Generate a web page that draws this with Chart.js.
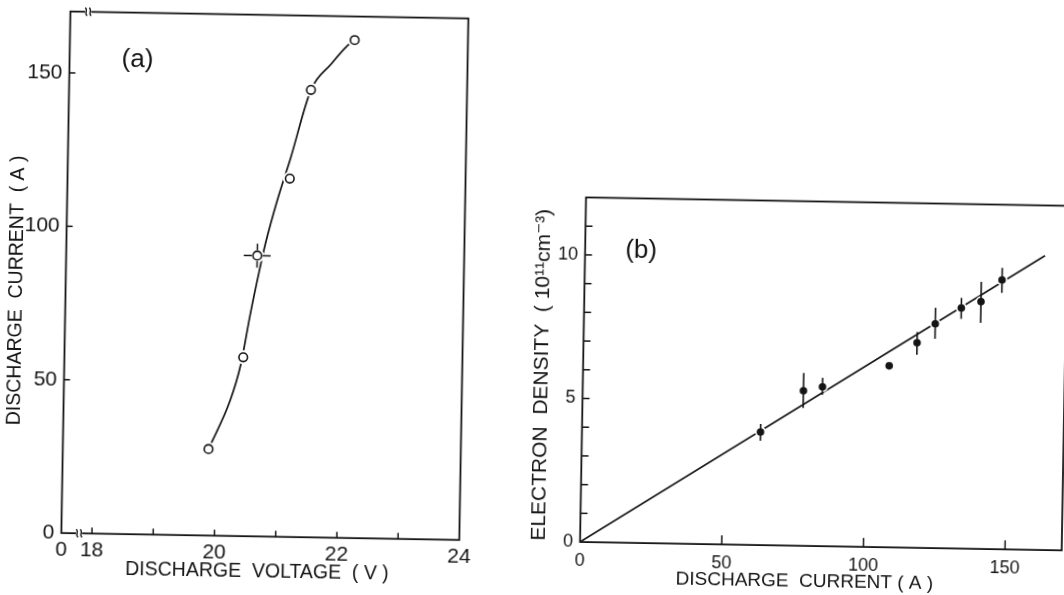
<!DOCTYPE html>
<html>
<head>
<meta charset="utf-8">
<title>Discharge characteristics</title>
<script src="https://cdn.jsdelivr.net/npm/chart.js@4.4.1/dist/chart.umd.min.js"></script>
<style>
  html, body { margin:0; padding:0; background:#fff; width:1064px; height:595px; overflow:hidden; }
  #wrap { position:absolute; left:0; top:0; width:1080px; height:595px; transform-origin:532px 297.5px; transform:rotate(1deg); }
  #wrap canvas { position:absolute; top:0; }
  #ca { left:0; }
  #cb { left:520px; }
</style>
</head>
<body>
<div id="wrap">
  <canvas id="ca" width="510" height="595"></canvas>
  <canvas id="cb" width="560" height="595"></canvas>
</div>
<script>
// ---------- Panel (a): discharge current vs discharge voltage ----------
const voltageA    = [19.88, 20.42, 20.62, 21.13, 21.45, 22.15];
const currentA    = [28.2, 58.3, 91.5, 116.8, 145.8, 162.3];
const voltageErrA = [0, 0, 0.22, 0, 0, 0];
const currentErrA = [0, 0, 3.9, 0, 0, 0];
const curveVoltageA = [19.88, 20.22, 20.38, 20.52, 20.66, 20.75, 20.93, 21.14, 21.45, 21.77, 22.03, 22.15];
const curveCurrentA = [28.2, 44.2, 55.7, 72.0, 86.7, 95.4, 109.5, 123.7, 145.8, 154.3, 160.4, 162.3];
const xTickValuesA = [17.5, 18, 20, 22, 24];
const xTickLabelsA = ['0', '18', '20', '22', '24'];
const xMinorTicksA = [18, 19, 20, 21, 22, 23];
const yTickValuesA = [0, 50, 100, 150];
const yTickLabelsA = ['0', '50', '100', '150'];
const xBreakA = 17.79;

// ---------- Panel (b): electron density vs discharge current ----------
const currentB     = [63.0, 77.9, 84.6, 108.0, 117.7, 124.0, 133.1, 140.0, 147.3];
const densityB     = [3.94, 5.40, 5.55, 6.32, 7.14, 7.81, 8.38, 8.61, 9.38];
const densityHighB = [4.22, 6.02, 5.86, null, 7.52, 8.37, 8.73, 9.30, 9.80];
const densityLowB  = [3.63, 4.80, 5.27, null, 6.72, 7.29, 8.00, 7.87, 8.93];
const fitCurrentB  = [0, 162.3];
const fitDensityB  = [0, 10.25];
const xTickValuesB = [0, 50, 100, 150];
const xTickLabelsB = ['0', '50', '100', '150'];
const xMinorTicksB = [50, 100, 150];
const yTickValuesB = [0, 5, 10];
const yTickLabelsB = ['0', '5', '10'];
const yMinorTicksB = [1, 2, 3, 4, 5, 6, 7, 8, 9, 10, 11];

// ---------- shared styling ----------
const FONT = "'Liberation Sans', Arial, 'DejaVu Sans', sans-serif";
const INK = '#151515';
Chart.defaults.font.family = FONT;
Chart.defaults.color = INK;

function seg(ctx, x1, y1, x2, y2) { ctx.beginPath(); ctx.moveTo(x1, y1); ctx.lineTo(x2, y2); ctx.stroke(); }

function drawFrame(chart) {
  const {ctx, chartArea: a} = chart;
  ctx.save();
  ctx.strokeStyle = INK; ctx.lineWidth = 1.8;
  ctx.strokeRect(a.left, a.top, a.right - a.left, a.bottom - a.top);
  ctx.restore();
}
function inwardTicks(chart, scale, values, len) {
  const {ctx, chartArea: a} = chart;
  ctx.save(); ctx.strokeStyle = INK; ctx.lineWidth = 1.5;
  values.forEach(v => {
    const p = scale.getPixelForValue(v);
    if (scale.isHorizontal()) seg(ctx, p, a.bottom, p, a.bottom - len);
    else seg(ctx, a.left, p, a.left + len, p);
  });
  ctx.restore();
}
function breakMark(ctx, x, y) {
  ctx.save();
  ctx.fillStyle = '#fff';
  ctx.fillRect(x - 3, y - 2, 6, 4);
  ctx.strokeStyle = INK; ctx.lineWidth = 1.3;
  [-2, 2].forEach(dx => {
    ctx.beginPath();
    ctx.moveTo(x + dx - 1, y - 4);
    ctx.bezierCurveTo(x + dx + 2.5, y - 1.5, x + dx - 2.5, y + 1.5, x + dx + 1, y + 4);
    ctx.stroke();
  });
  ctx.restore();
}
function panelLabel(chart, text, dx, dy) {
  const {ctx, chartArea: a} = chart;
  ctx.save();
  ctx.fillStyle = INK; ctx.font = '26px ' + FONT;
  ctx.textAlign = 'center'; ctx.textBaseline = 'middle';
  ctx.fillText(text, a.left + dx, a.top + dy);
  ctx.restore();
}
function tickSetter(values) { return s => { s.ticks = values.map(v => ({value: v})); }; }

// ---------- chart (a) ----------
const decorA = {
  id: 'decorA',
  afterDatasetsDraw(chart) {
    const {ctx, scales: {x, y}} = chart;
    ctx.save(); ctx.strokeStyle = INK; ctx.lineWidth = 1.5;
    voltageA.forEach((v, i) => {
      const px = x.getPixelForValue(v), py = y.getPixelForValue(currentA[i]);
      const gap = 5.5;
      if (voltageErrA[i]) {
        const l = x.getPixelForValue(v - voltageErrA[i]), r = x.getPixelForValue(v + voltageErrA[i]);
        seg(ctx, l, py, px - gap, py); seg(ctx, px + gap, py, r, py);
      }
      if (currentErrA[i]) {
        const t = y.getPixelForValue(currentA[i] + currentErrA[i]), b = y.getPixelForValue(currentA[i] - currentErrA[i]);
        seg(ctx, px, t, px, py - gap); seg(ctx, px, py + gap, px, b);
      }
    });
    ctx.restore();
  },
  afterDraw(chart) {
    const {ctx, chartArea: a, scales: {x, y}} = chart;
    drawFrame(chart);
    inwardTicks(chart, x, xMinorTicksA, 6);
    inwardTicks(chart, y, yTickValuesA.slice(1), 6);
    const bx = x.getPixelForValue(xBreakA);
    breakMark(ctx, bx, a.bottom);
    breakMark(ctx, bx, a.top);
    panelLabel(chart, '(a)', 68, 47);
  }
};

new Chart(document.getElementById('ca'), {
  type: 'scatter',
  data: {
    datasets: [
      { data: curveVoltageA.map((v, i) => ({x: v, y: curveCurrentA[i]})), showLine: true,
        borderColor: INK, borderWidth: 1.7, pointRadius: 0, cubicInterpolationMode: 'monotone', order: 3 },
      { data: voltageA.map((v, i) => ({x: v, y: currentA[i]})), pointRadius: 7,
        pointBackgroundColor: '#fff', pointBorderColor: '#fff', pointBorderWidth: 0, order: 2 },
      { data: voltageA.map((v, i) => ({x: v, y: currentA[i]})), pointRadius: 4.3,
        pointBackgroundColor: '#fff', pointBorderColor: INK, pointBorderWidth: 1.6, order: 1 }
    ]
  },
  options: {
    responsive: false, animation: false, events: [],
    layout: { padding: { left: 0, top: 18, right: 46.5, bottom: 0 }, autoPadding: false },
    plugins: { legend: { display: false }, tooltip: { enabled: false } },
    scales: {
      x: {
        type: 'linear', min: 17.5, max: 24,
        afterBuildTicks: tickSetter(xTickValuesA),
        afterFit: s => { s.height = 53.8; },
        grid: { display: false, drawTicks: false }, border: { display: false },
        ticks: { autoSkip: false, maxRotation: 0, padding: 4, color: INK, font: { size: 21 },
                 callback: (v, i) => xTickLabelsA[i] },
        title: { display: true, text: 'DISCHARGE  VOLTAGE  ( V ) ', color: INK, font: { size: 19.5 },
                 padding: { top: 0, bottom: 7 } }
      },
      y: {
        type: 'linear', min: 0, max: 170,
        afterBuildTicks: tickSetter(yTickValuesA),
        afterFit: s => { s.width = 65.5; },
        grid: { display: false, drawTicks: false }, border: { display: false },
        ticks: { autoSkip: false, padding: 7, color: INK, font: { size: 21 },
                 callback: (v, i) => yTickLabelsA[i] },
        title: { display: true, text: 'DISCHARGE  CURRENT  ( A )       ', color: INK, font: { size: 19.5 },
                 padding: { top: 5, bottom: 0 } }
      }
    }
  },
  plugins: [decorA]
});

// ---------- chart (b) ----------
const decorB = {
  id: 'decorB',
  afterDatasetsDraw(chart) {
    const {ctx, scales: {x, y}} = chart;
    ctx.save(); ctx.strokeStyle = INK; ctx.lineWidth = 1.6;
    currentB.forEach((c, i) => {
      if (densityHighB[i] == null) return;
      const px = x.getPixelForValue(c);
      seg(ctx, px, y.getPixelForValue(densityHighB[i]), px, y.getPixelForValue(densityLowB[i]));
    });
    ctx.restore();
  },
  afterDraw(chart) {
    const {scales: {x, y}} = chart;
    drawFrame(chart);
    inwardTicks(chart, x, xMinorTicksB, 9);
    inwardTicks(chart, y, yMinorTicksB, 7);
    panelLabel(chart, '(b)', 56, 52);
  }
};

new Chart(document.getElementById('cb'), {
  type: 'scatter',
  data: {
    datasets: [
      { data: fitCurrentB.map((c, i) => ({x: c, y: fitDensityB[i]})), showLine: true,
        borderColor: INK, borderWidth: 1.6, pointRadius: 0, order: 3 },
      { data: currentB.map((c, i) => ({x: c, y: densityB[i]})), pointRadius: 5.5,
        pointBackgroundColor: '#fff', pointBorderColor: '#fff', pointBorderWidth: 0, order: 2 },
      { data: currentB.map((c, i) => ({x: c, y: densityB[i]})), pointRadius: 3.8,
        pointBackgroundColor: INK, pointBorderColor: INK, pointBorderWidth: 0, order: 1 }
    ]
  },
  options: {
    responsive: false, animation: false, events: [],
    layout: { padding: { left: 0, top: 196.5, right: 14, bottom: 0 }, autoPadding: false },
    plugins: { legend: { display: false }, tooltip: { enabled: false } },
    scales: {
      x: {
        type: 'linear', min: 0, max: 170,
        afterBuildTicks: tickSetter(xTickValuesB),
        afterFit: s => { s.height = 53.9; },
        grid: { display: false, drawTicks: false }, border: { display: false },
        ticks: { autoSkip: false, maxRotation: 0, padding: 8, color: INK, font: { size: 18 },
                 callback: (v, i) => xTickLabelsB[i] },
        title: { display: true, text: 'DISCHARGE  CURRENT ( A )      ', color: INK, font: { size: 19 },
                 padding: { top: 0, bottom: 6.5 } }
      },
      y: {
        type: 'linear', min: 0, max: 12,
        afterBuildTicks: tickSetter(yTickValuesB),
        afterFit: s => { s.width = 64.3; },
        grid: { display: false, drawTicks: false }, border: { display: false },
        ticks: { autoSkip: false, padding: 7, color: INK, font: { size: 18 },
                 callback: (v, i) => yTickLabelsB[i] },
        title: { display: true, text: 'ELECTRON  DENSITY  ( 10\u00B9\u00B9cm\u207B\u00B3)  ', color: INK, font: { size: 21 },
                 padding: { top: 11, bottom: 0 } }
      }
    }
  },
  plugins: [decorB]
});
</script>
</body>
</html>
